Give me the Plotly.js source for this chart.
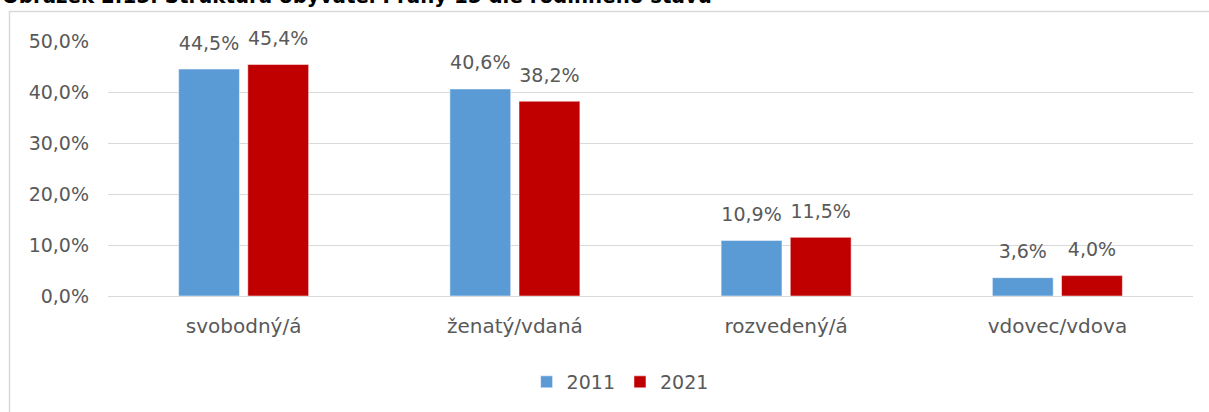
<!DOCTYPE html>
<html>
<head>
<meta charset="utf-8">
<script src="https://cdn.plot.ly/plotly-3.0.1.min.js"></script>
<style>html,body{margin:0;padding:0;background:#fff;}#chart{width:1209px;height:412px;}</style>
</head>
<body>
<div id="chart"></div>
<script>
const categories = ["svobodný/á", "ženatý/vdaná", "rozvedený/á", "vdovec/vdova"];
const values2011 = [44.5, 40.6, 10.9, 3.6];
const values2021 = [45.4, 38.2, 11.5, 4.0];
const seriesNames = ["2011", "2021"];
const yTicks = [0, 10, 20, 30, 40, 50];
const titleText = "Obrázek 2.15: Struktura obyvatel Prahy 15 dle rodinného stavu";

const FONT = "DejaVu Sans, Verdana, sans-serif";
const GREY = "#595959";

const fmtPct = v => v.toFixed(1).replace(".", ",") + "%";

const mkBar = (name, vals, color) => ({
  type: "bar",
  name: name,
  x: categories,
  y: vals,
  marker: {color: color, line: {color: "rgba(255,255,255,0.5)", width: 1}},
  hoverinfo: "skip"
});

const mkLabels = (name, vals) => ({
  type: "scatter",
  mode: "markers+text",
  name: name + " labels",
  showlegend: false,
  x: categories,
  y: vals,
  text: vals.map(fmtPct),
  textposition: "top center",
  marker: {size: 22, opacity: 0, color: "#ffffff"},
  cliponaxis: false,
  textfont: {family: FONT, size: 19, color: GREY},
  hoverinfo: "skip"
});

const data = [
  mkBar(seriesNames[0], values2011, "#5b9bd5"),
  mkBar(seriesNames[1], values2021, "#c00000"),
  mkLabels(seriesNames[0], values2011),
  mkLabels(seriesNames[1], values2021)
];

const layout = {
  width: 1209, height: 412,
  margin: {l: 108, r: 16, t: 41, b: 115, pad: 0},
  paper_bgcolor: "#ffffff",
  plot_bgcolor: "#ffffff",
  font: {family: FONT, color: GREY, size: 18},
  barmode: "group",
  bargap: 0.49,
  bargroupgap: 0.12,
  scattermode: "group",
  scattergap: 0.49,
  showlegend: true,
  legend: {
    orientation: "h", x: 0.472, xanchor: "center", y: -0.332, yanchor: "middle",
    font: {family: FONT, size: 19, color: GREY},
    itemwidth: 30, tracegroupgap: 0
  },
  xaxis: {
    type: "category",
    showgrid: false, zeroline: false, showline: false,
    ticks: "", ticklabelstandoff: 16,
    tickfont: {family: FONT, size: 20, color: GREY}
  },
  yaxis: {
    range: [0, 50], tickmode: "array", tickvals: yTicks, ticktext: yTicks.map(fmtPct),
    showgrid: true, gridcolor: "#d9d9d9", gridwidth: 1,
    zeroline: true, zerolinecolor: "#d9d9d9", zerolinewidth: 1,
    showline: false, ticks: "", ticklabelstandoff: 18,
    tickfont: {family: FONT, size: 19, color: GREY}
  },
  shapes: [{
    type: "rect", xref: "paper", yref: "paper", layer: "below",
    x0: (9.5 - 108) / 1085, x1: 1.2,
    y0: -0.6, y1: 1 + (41 - 11.5) / 256,
    line: {color: "#d9d9d9", width: 1.5}, fillcolor: "rgba(0,0,0,0)"
  }],
  annotations: [{
    text: "<b>" + titleText + "</b>",
    xref: "paper", yref: "paper",
    x: -108 / 1085, xanchor: "left",
    y: 1 + (41 - 10) / 256, yanchor: "bottom",
    showarrow: false,
    font: {family: "DejaVu Sans Condensed, DejaVu Sans, sans-serif", size: 22, color: "#000000"}
  }]
};

Plotly.newPlot("chart", data, layout, {displayModeBar: false, staticPlot: true});
</script>
</body>
</html>
